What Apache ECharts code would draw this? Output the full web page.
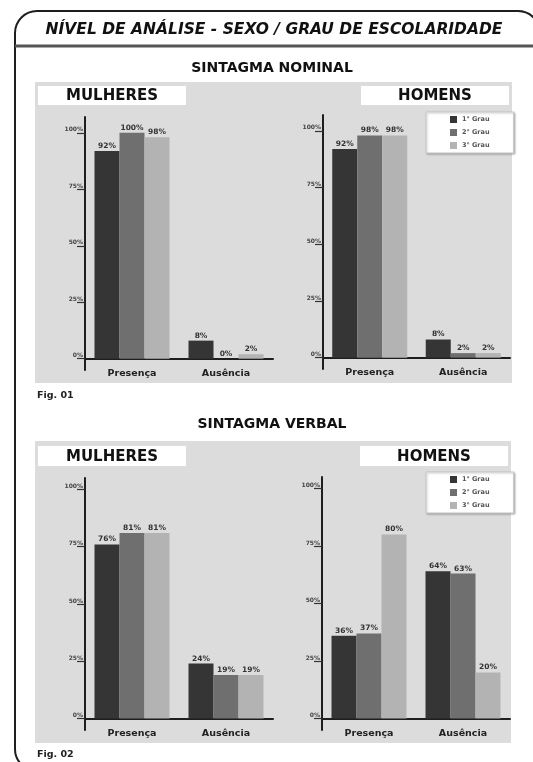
<!DOCTYPE html>
<html>
<head>
<meta charset="utf-8">
<script src="https://cdn.jsdelivr.net/npm/echarts@6/dist/echarts.min.js"></script>
<style>
  html, body { margin: 0; padding: 0; background: #ffffff; }
  #chart { width: 533px; height: 762px; }
</style>
</head>
<body>
<div id="chart"></div>
<script>
// Categories and grade (series) names
const categories = ['Presença', 'Ausência'];
const grades = ['1° Grau', '2° Grau', '3° Grau'];
const gradeColors = ['#353535', '#6f6f6f', '#b3b3b3'];
const yTicks = [0, 25, 50, 75, 100];

// Percentages per grade: [Presença, Ausência]
const nominalMulheres = [[92, 8], [100, 0], [98, 2]];
const nominalHomens   = [[92, 8], [98, 2], [98, 2]];
const verbalMulheres  = [[76, 24], [81, 19], [81, 19]];
const verbalHomens    = [[36, 64], [37, 63], [80, 20]];

const FONT = '"DejaVu Sans", "Open Sans", sans-serif';

const chart = echarts.init(document.getElementById('chart'), null, { renderer: 'canvas' });

// Plot areas for the four small charts
const grids = [
  { left: 85,  right: 260, top: 117, bottom: 392 },
  { left: 323, right: 23,  top: 115, bottom: 393 },
  { left: 85,  right: 260, top: 478, bottom: 32 },
  { left: 322, right: 23,  top: 477, bottom: 32 }
];
const yMax = [107, 107, 105, 105];
const datasets = [nominalMulheres, nominalHomens, verbalMulheres, verbalHomens];

const xAxes = grids.map((g, i) => ({
  type: 'category',
  gridIndex: i,
  data: categories,
  axisLine: { lineStyle: { color: '#1e1e1e', width: 2 } },
  axisTick: { show: false },
  axisLabel: { fontFamily: FONT, fontSize: 9.5, fontWeight: 'bold', color: '#222', margin: -1 }
}));

const yAxes = grids.map((g, i) => ({
  type: 'value',
  gridIndex: i,
  min: -5,
  max: yMax[i],
  splitLine: { show: false },
  axisLine: { show: true, lineStyle: { color: '#1e1e1e', width: 2 } },
  axisTick: { show: true, length: 8, customValues: yTicks, lineStyle: { color: '#333', width: 1.2 } },
  axisLabel: {
    customValues: yTicks,
    formatter: '{value}%',
    fontFamily: FONT, fontSize: 6, fontWeight: 'bold', color: '#444',
    margin: 2, verticalAlign: 'bottom', align: 'right'
  }
}));

const series = [];
datasets.forEach((data, gi) => {
  data.forEach((vals, si) => {
    series.push({
      name: grades[si],
      type: 'bar',
      xAxisIndex: gi,
      yAxisIndex: gi,
      data: vals,
      barWidth: 25,
      barGap: '0%',
      itemStyle: { color: gradeColors[si] },
      label: {
        show: true, position: 'top', distance: 1,
        formatter: '{c}%',
        fontFamily: FONT, fontSize: 7.5, fontWeight: 'bold', color: '#333'
      }
    });
  });
});

function legendAt(top) {
  return {
    data: grades,
    orient: 'vertical',
    left: 426, top: top,
    padding: [4, 24, 4, 24],
    itemWidth: 7, itemHeight: 7, itemGap: 6,
    icon: 'rect',
    backgroundColor: '#ffffff',
    borderColor: '#c8c8c8', borderWidth: 1,
    shadowColor: 'rgba(0,0,0,0.25)', shadowBlur: 2, shadowOffsetX: 1, shadowOffsetY: 1,
    textStyle: { fontFamily: FONT, fontSize: 6.5, fontWeight: 'bold', color: '#555' },
    selectedMode: false
  };
}

function boxLabel(x, y, w, h, text) {
  return [
    { type: 'rect', z: -1, shape: { x: x, y: y, width: w, height: h }, style: { fill: '#ffffff' } },
    { type: 'text', z: -1, x: x + w / 2, y: y + h / 2 + 1,
      style: { text: text, fontFamily: FONT, fontSize: 15, fontWeight: 'bold', fill: '#111',
               align: 'center', verticalAlign: 'middle' } }
  ];
}

const graphic = [
  // outer frame
  { type: 'rect', z: -2, shape: { x: 15, y: 11, width: 525, height: 760, r: 22 },
    style: { fill: 'none', stroke: '#1e1e1e', lineWidth: 2 } },
  { type: 'line', z: -2, shape: { x1: 15, y1: 46, x2: 533, y2: 46 },
    style: { stroke: '#555', lineWidth: 3 } },
  { type: 'text', z: -1, x: 274, y: 30,
    style: { text: 'NÍVEL DE ANÁLISE - SEXO / GRAU DE ESCOLARIDADE', fontFamily: FONT,
             fontSize: 15.5, fontWeight: 'bold', fontStyle: 'italic', fill: '#111',
             align: 'center', verticalAlign: 'middle' } },
  // section headings
  { type: 'text', z: -1, x: 272, y: 68,
    style: { text: 'SINTAGMA NOMINAL', fontFamily: FONT, fontSize: 14, fontWeight: 'bold', fill: '#111',
             align: 'center', verticalAlign: 'middle' } },
  { type: 'text', z: -1, x: 272, y: 424,
    style: { text: 'SINTAGMA VERBAL', fontFamily: FONT, fontSize: 14, fontWeight: 'bold', fill: '#111',
             align: 'center', verticalAlign: 'middle' } },
  // grey panels
  { type: 'rect', z: -2, shape: { x: 35, y: 82, width: 477, height: 301 }, style: { fill: '#dcdcdc' } },
  { type: 'rect', z: -2, shape: { x: 35, y: 441, width: 476, height: 302 }, style: { fill: '#dcdcdc' } },
  ...boxLabel(38, 86, 148, 19, 'MULHERES'),
  ...boxLabel(361, 86, 148, 19, 'HOMENS'),
  ...boxLabel(38, 446, 148, 20, 'MULHERES'),
  ...boxLabel(360, 446, 148, 20, 'HOMENS'),
  // figure captions
  { type: 'text', z: -1, x: 37, y: 396,
    style: { text: 'Fig. 01', fontFamily: FONT, fontSize: 9.5, fontWeight: 'bold', fill: '#222',
             align: 'left', verticalAlign: 'middle' } },
  { type: 'text', z: -1, x: 37, y: 755,
    style: { text: 'Fig. 02', fontFamily: FONT, fontSize: 9.5, fontWeight: 'bold', fill: '#222',
             align: 'left', verticalAlign: 'middle' } }
];

chart.setOption({
  animation: false,
  backgroundColor: '#ffffff',
  grid: grids,
  xAxis: xAxes,
  yAxis: yAxes,
  legend: [legendAt(112), legendAt(472)],
  series: series,
  graphic: graphic
});
</script>
</body>
</html>
